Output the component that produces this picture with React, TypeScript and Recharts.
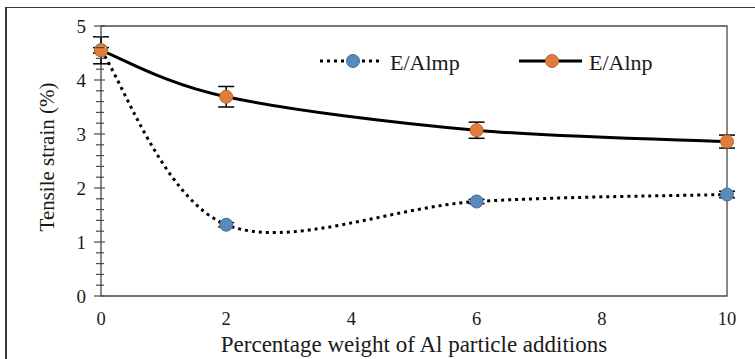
import React from "react";
import { LineChart, Line, XAxis, YAxis, ErrorBar, ReferenceArea } from "recharts";

const xValues = [0, 2, 6, 10];
const almpValues = [4.55, 1.32, 1.75, 1.88];
const alnpValues = [4.55, 3.69, 3.07, 2.86];
const almpErrors = [0.05, 0.04, 0.04, 0.06];
const alnpErrors = [0.25, 0.19, 0.15, 0.12];
const xTicks = [0, 2, 4, 6, 8, 10];
const yTicks = [0, 0.2, 0.4, 0.6, 0.8, 1, 1.2, 1.4, 1.6, 1.8, 2, 2.2, 2.4, 2.6, 2.8, 3, 3.2, 3.4, 3.6, 3.8, 4, 4.2, 4.4, 4.6, 4.8, 5];

const data = xValues.map((x, i) => ({
  x,
  almp: almpValues[i],
  alnp: alnpValues[i],
  almpErr: almpErrors[i],
  alnpErr: alnpErrors[i],
}));

const FONT = "Liberation Serif, Tinos, Times New Roman, serif";
const AXIS = "#4a4a4a";
const BLUE = "#5B88BD";
const BLUE_EDGE = "#41719C";
const ORANGE = "#E27D3C";
const ORANGE_EDGE = "#B8652C";

// Excel-like smoothed line (Catmull-Rom style Bezier)
const excelCurve = (context: any) => {
  let xs: number[] = [];
  let ys: number[] = [];
  return {
    areaStart() {},
    areaEnd() {},
    lineStart() {
      xs = [];
      ys = [];
    },
    point(x: number, y: number) {
      xs.push(+x);
      ys.push(+y);
    },
    lineEnd() {
      const n = xs.length;
      if (!n) return;
      context.moveTo(xs[0], ys[0]);
      for (let i = 0; i < n - 1; i++) {
        const i0 = Math.max(i - 1, 0);
        const i3 = Math.min(i + 2, n - 1);
        const c1x = xs[i] + (xs[i + 1] - xs[i0]) / 6;
        const c1y = ys[i] + (ys[i + 1] - ys[i0]) / 6;
        const c2x = xs[i + 1] - (xs[i3] - xs[i]) / 6;
        const c2y = ys[i + 1] - (ys[i3] - ys[i]) / 6;
        context.bezierCurveTo(c1x, c1y, c2x, c2y, xs[i + 1], ys[i + 1]);
      }
    },
  };
};

const txt = { fontFamily: FONT, fill: "#1a1a1a" } as const;

const YTick = (props: any) => {
  const { x, y, payload } = props;
  const v = payload.value;
  const major = Math.abs(v - Math.round(v)) < 1e-6;
  return (
    <g>
      <line
        x1={x - (major ? 7 : 5)}
        x2={x + (major ? 4 : 3)}
        y1={y}
        y2={y}
        stroke={AXIS}
        strokeWidth={1.2}
      />
      {major && (
        <text
          x={x - 15}
          y={y}
          textAnchor="end"
          dominantBaseline="central"
          style={{ ...txt, fontSize: 19 }}
        >
          {Math.round(v)}
        </text>
      )}
    </g>
  );
};

const XTick = (props: any) => {
  const { x, y, payload } = props;
  return (
    <text
      x={x}
      y={y + 23}
      textAnchor="middle"
      dominantBaseline="central"
      style={{ ...txt, fontSize: 18.5 }}
    >
      {payload.value}
    </text>
  );
};

const Dot = (fill: string, edge: string) => (props: any) => {
  const { cx, cy, index } = props;
  if (cx == null || cy == null) return <g key={index} />;
  return <circle key={index} cx={cx} cy={cy} r={6.5} fill={fill} stroke={edge} strokeWidth={1} />;
};

const legendItems = [
  { name: "E/Almp", fill: BLUE, edge: BLUE_EDGE, dash: "3 4", x: 320 },
  { name: "E/Alnp", fill: ORANGE, edge: ORANGE_EDGE, dash: undefined, x: 519 },
];

export default function App() {
  return (
    <div
      style={{
        position: "absolute",
        left: 0,
        top: 0,
        width: 755,
        height: 359,
        overflow: "hidden",
        background: "#fff",
      }}
    >
      <div
        style={{
          position: "absolute",
          left: 5,
          top: 7,
          width: 800,
          height: 400,
          borderLeft: "2px solid #3a3a3a",
          borderTop: "1.5px solid #3a3a3a",
        }}
      />
      <div style={{ position: "absolute", left: 0, top: 0 }}>
        <LineChart
          width={755}
          height={359}
          data={data}
          margin={{ top: 26, right: 28, bottom: 0, left: 41 }}
        >
          <ReferenceArea
            x1={0}
            x2={10}
            y1={0}
            y2={5}
            fill="none"
            stroke={AXIS}
            strokeWidth={1.3}
            ifOverflow="visible"
          />
          <XAxis
            dataKey="x"
            type="number"
            domain={[0, 10]}
            ticks={xTicks}
            axisLine={false}
            tickLine={false}
            tickSize={0}
            tickMargin={0}
            height={63}
            tick={<XTick />}
            label={() => (
              <text
                x={414}
                y={352}
                textAnchor="middle"
                style={{ ...txt, fontSize: 23 }}
              >
                Percentage weight of Al particle additions
              </text>
            )}
          />
          <YAxis
            type="number"
            domain={[0, 5]}
            ticks={yTicks}
            interval={0}
            axisLine={false}
            tickLine={false}
            tickSize={0}
            tickMargin={0}
            width={60}
            tick={<YTick />}
            label={() => (
              <text
                x={47}
                y={157}
                transform="rotate(-90 47 157)"
                textAnchor="middle"
                dominantBaseline="central"
                style={{ ...txt, fontSize: 21 }}
              >
                Tensile strain (%)
              </text>
            )}
          />
          <Line
            dataKey="almp"
            type={excelCurve as any}
            stroke="#000"
            strokeWidth={3}
            strokeDasharray="3 4"
            dot={Dot(BLUE, BLUE_EDGE)}
            isAnimationActive={false}
          >
            <ErrorBar dataKey="almpErr" direction="y" width={8} stroke="#000" strokeWidth={1.5} />
          </Line>
          <Line
            dataKey="alnp"
            type={excelCurve as any}
            stroke="#000"
            strokeWidth={3}
            dot={Dot(ORANGE, ORANGE_EDGE)}
            isAnimationActive={false}
          >
            <ErrorBar dataKey="alnpErr" direction="y" width={8} stroke="#000" strokeWidth={1.5} />
          </Line>
        </LineChart>
      </div>
      <svg
        width={755}
        height={359}
        style={{ position: "absolute", left: 0, top: 0, pointerEvents: "none" }}
      >
        {legendItems.map((it) => (
          <g key={it.name}>
            <line
              x1={it.x}
              x2={it.x + 63}
              y1={61}
              y2={61}
              stroke="#000"
              strokeWidth={3}
              strokeDasharray={it.dash}
            />
            <circle cx={it.x + 33} cy={61} r={6.5} fill={it.fill} stroke={it.edge} strokeWidth={1} />
            <text
              x={it.x + 70}
              y={62}
              dominantBaseline="central"
              style={{ ...txt, fontSize: 22 }}
            >
              {it.name}
            </text>
          </g>
        ))}
      </svg>
    </div>
  );
}
